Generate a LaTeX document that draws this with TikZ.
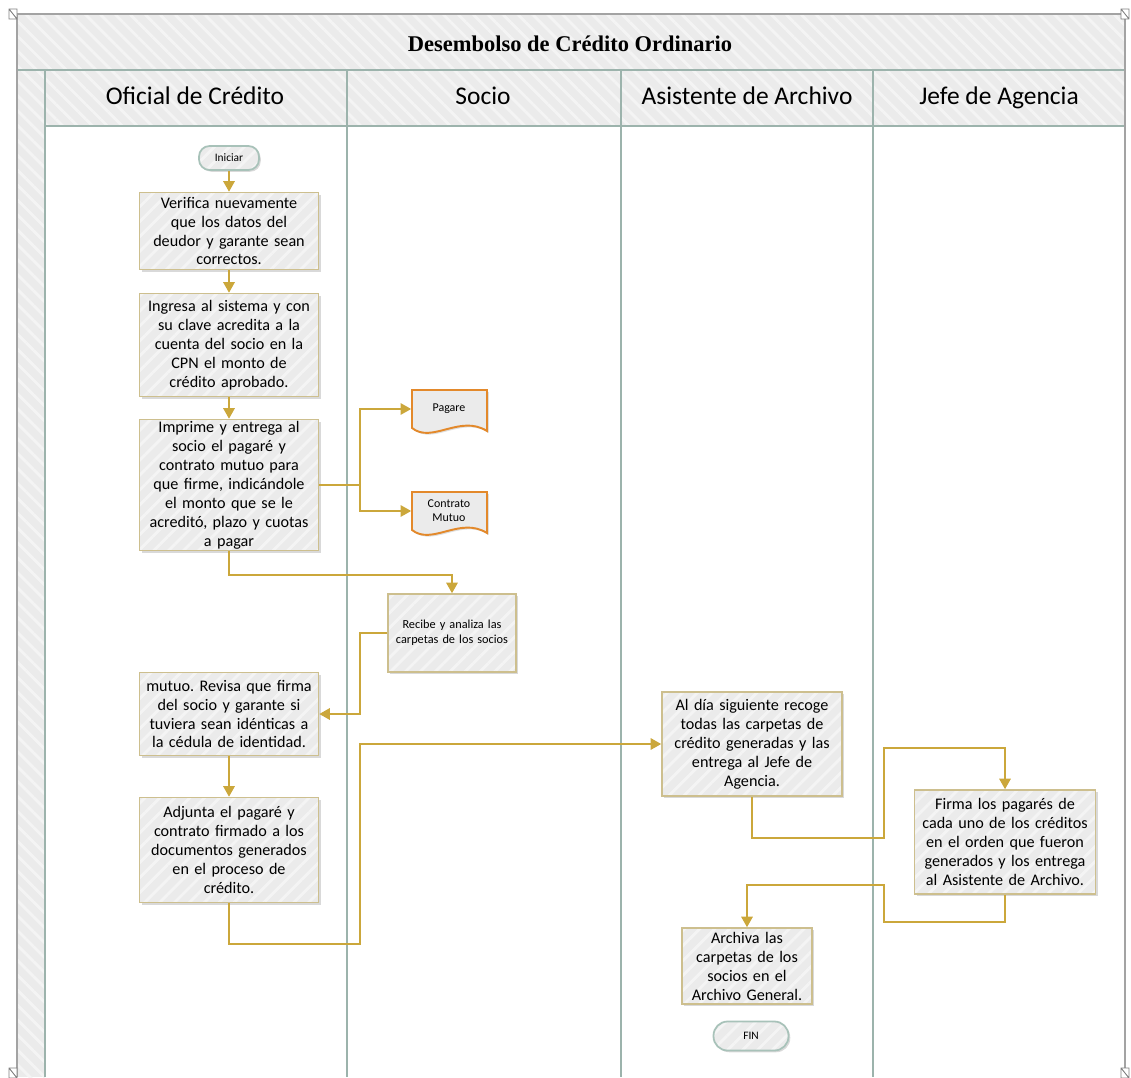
\documentclass[tikz,border=0pt]{standalone}
\usepackage{fontspec}
\setmainfont{Carlito}
\newfontfamily\titlefont{Liberation Serif}
\usetikzlibrary{positioning,calc,arrows.meta,shadows,patterns.meta}

\definecolor{flowgold}{HTML}{CBA73B}
\definecolor{boxedge}{HTML}{CDBF8E}
\definecolor{boxfill}{HTML}{EBEBEB}
\definecolor{stripe}{HTML}{F4F4F4}
\definecolor{laneline}{HTML}{9CB3AC}
\definecolor{frameline}{HTML}{A3A3A3}
\definecolor{docedge}{HTML}{E3892B}
\definecolor{pilledge}{HTML}{A8C2B9}

\begin{document}
\frenchspacing
\begin{tikzpicture}[x=0.02cm,y=-0.02cm,
  hatch/.style={preaction={fill=boxfill},
    preaction={pattern={Lines[angle=#1,distance=6pt,line width=1.6pt]},pattern color=stripe}},
  hatch/.default=45,
  band/.style={hatch=-45},
  actbox/.style={drop shadow={opacity=0.3,shadow xshift=1.2pt,shadow yshift=-1.2pt},
    hatch, draw=boxedge, line width=0.9pt,
    align=center, inner xsep=3pt, inner ysep=1pt,
    font=\fontsize{9.2}{10.8}\selectfont},
  widebox/.style={actbox, text width=3.37cm},
  pill/.style={drop shadow={opacity=0.3,shadow xshift=1pt,shadow yshift=-1pt},
    hatch, draw=pilledge, line width=1pt, rounded corners=6pt,
    font=\fontsize{6.5}{7.5}\selectfont},
  docshape/.style={draw=docedge, line width=1.1pt, fill=boxfill,
    drop shadow={opacity=0.25,shadow xshift=1pt,shadow yshift=-1pt}},
  doctext/.style={align=center, minimum width=1.5cm, inner sep=0pt,
    font=\fontsize{6.8}{8}\selectfont},
  lanehead/.style={anchor=base, font=\fontsize{14.5}{17}\selectfont},
  flow/.style={draw=flowgold, line width=1pt, -{Triangle[length=6pt,width=6.5pt]}},
  flowline/.style={draw=flowgold, line width=1pt}
]
\useasboundingbox (0,0) rectangle (1131,1077);

% pool: title band, lane headers, left strip
\path[band] (17,14) rectangle (1125,70);
\path[band] (17,70) rectangle (1125,126);
\path[band] (17,126) rectangle (45,1077);
\node[font=\titlefont\bfseries\fontsize{12.8}{14}\selectfont] (title) at (570,44) {Desembolso de Crédito Ordinario};
\foreach \nm/\cx/\txt in {hof/195/Oficial de Crédito, hso/483/Socio, has/747/Asistente de Archivo, hje/999/Jefe de Agencia}
  \node[lanehead] (\nm) at (\cx,105) {\txt};

% lane lines
\draw[laneline, line width=0.9pt] (17,70) -- (1125,70);
\draw[laneline, line width=0.9pt] (45,126) -- (1125,126);
\foreach \lx in {45,347,621,873}
  \draw[laneline, line width=0.9pt] (\lx,70) -- (\lx,1077);
\draw[frameline, line width=1.2pt] (17,1077) -- (17,14) -- (1125,14) -- (1125,1077);
% corner handles
\foreach \hx/\hy in {13/14, 1125/14, 13/1073, 1125/1073}
  \draw[gray, fill=white, line width=0.5pt] (\hx-4,\hy-5) rectangle (\hx+4,\hy+5) (\hx-4,\hy-5) -- (\hx+4,\hy+5);

% Oficial de Credito
\node[pill, minimum width=1.2cm, minimum height=0.48cm] (ini) at (229,158) {Iniciar};
\node[widebox, minimum height=1.54cm] (v1) at (229,231) {Verifica nuevamente\\que los datos del\\deudor y garante sean\\correctos.};
\node[widebox, minimum height=2.06cm] (v2) at (229,345) {Ingresa al sistema y con\\su clave acredita a la\\cuenta del socio en la\\CPN el monto de\\crédito aprobado.};
\node[widebox, minimum height=2.62cm, inner ysep=0pt] (v3) at (229,485) {Imprime y entrega al\\socio el pagaré y\\contrato mutuo para\\que firme, indicándole\\el monto que se le\\acreditó, plazo y cuotas\\a pagar};
\node[widebox, minimum height=1.66cm] (rev) at (229,714) {mutuo. Revisa que firma\\del socio y garante si\\tuviera sean idénticas a\\la cédula de identidad.};
\node[widebox, minimum height=2.1cm] (adj) at (229,850) {Adjunta el pagaré y\\contrato firmado a los\\documentos generados\\en el proceso de\\crédito.};

% Socio
\foreach \nm/\cx/\cy/\txt in {pag/449/390/Pagare, con/449/492/{Contrato\\Mutuo}}{
  \filldraw[docshape] (\cx-37,\cy) -- (\cx+38,\cy) -- (\cx+38,\cy+41)
    .. controls (\cx+11,\cy+24) and (\cx-17,\cy+54) .. (\cx-37,\cy+38) -- cycle;
  \node[doctext] (\nm) at (\cx,\cy+19) {\txt};
}
\node[actbox, text width=2.35cm, minimum height=1.56cm, font=\fontsize{7}{8.4}\selectfont] (rec) at (452,633) {Recibe y analiza las\\carpetas de los socios};

% Asistente de Archivo
\node[actbox, text width=3.39cm, minimum height=2.08cm] (arc) at (752,744) {Al día siguiente recoge\\todas las carpetas de\\crédito generadas y las\\entrega al Jefe de\\Agencia.};
\node[actbox, text width=2.39cm, minimum height=1.52cm] (arch) at (747,966) {Archiva las\\carpetas de los\\socios en el\\Archivo General.};
\node[pill, minimum width=1.5cm, minimum height=0.58cm, rounded corners=8pt] (fin) at (751,1036) {FIN};

% Jefe de Agencia
\node[actbox, text width=3.41cm, minimum height=2.08cm] (fir) at (1005,842) {Firma los pagarés de\\cada uno de los créditos\\en el orden que fueron\\generados y los entrega\\al Asistente de Archivo.};

% connectors
\draw[flow] (ini) -- (v1);
\draw[flow] (v1) -- (v2);
\draw[flow] (v2) -- (v3);
\coordinate (split) at (360,485);
\draw[flowline] (v3.east) -- (split);
\draw[flow] (split) |- (pag.west);
\draw[flow] (split) |- (con.west);
\draw[flow] (v3.south) |- (452,575) -- (rec.north);
\draw[flow] (rec.west) -| (360,714) -- (rev.east);
\draw[flow] (rev) -- (adj);
\draw[flow] (adj.south) |- (360,944) |- (arc.west);
\draw[flow] (arc.south) |- (884,838) |- (1005,748) -- (fir.north);
\draw[flow] (fir.south) |- (884,922) |- (747,885) -- (arch.north);

\end{tikzpicture}
\end{document}
